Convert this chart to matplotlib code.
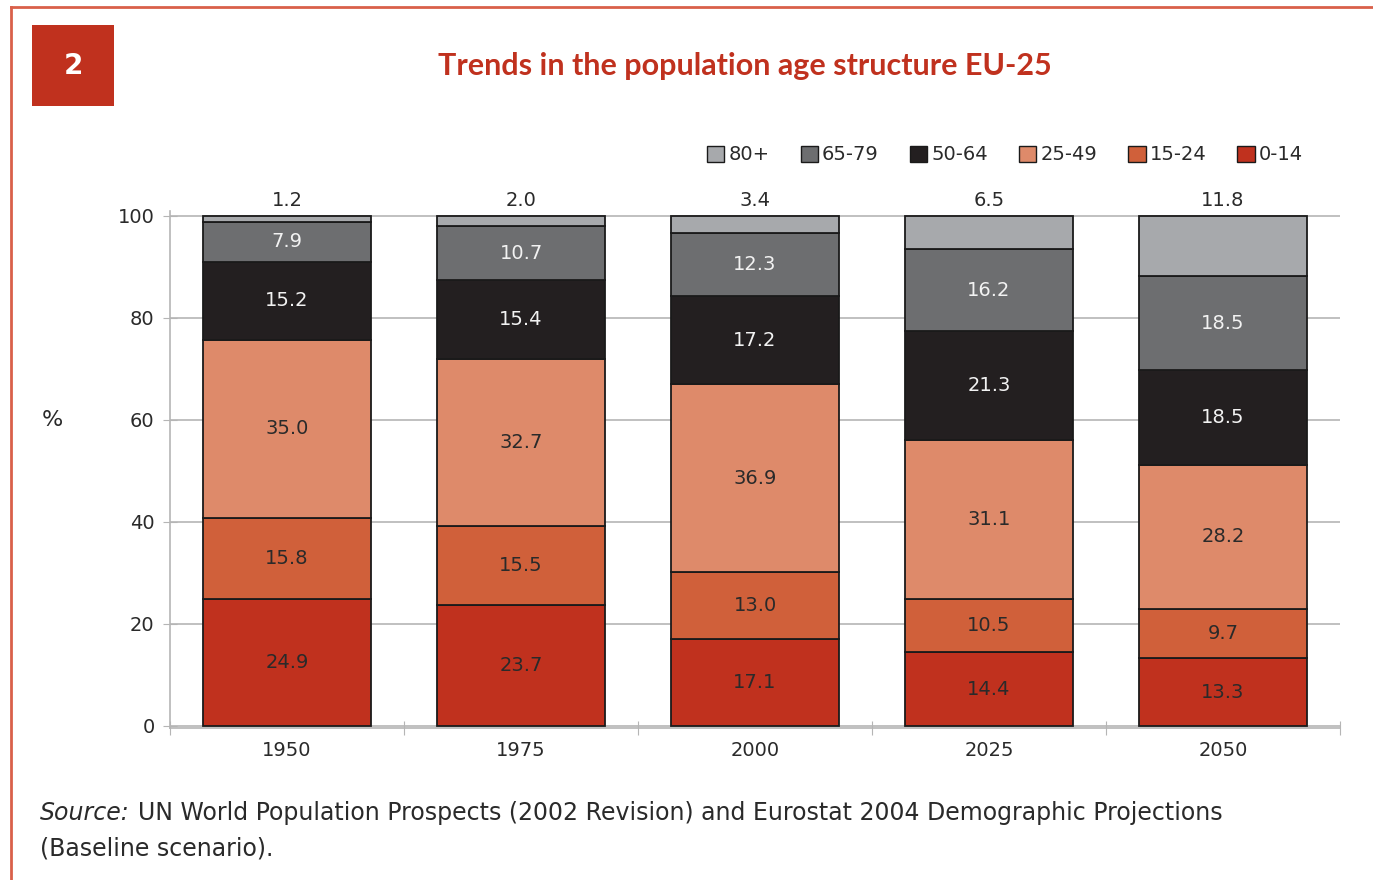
import numpy as np
import matplotlib
matplotlib.use("Agg")
from matplotlib import pyplot as plt
from matplotlib.patches import Rectangle, Patch
from matplotlib.lines import Line2D

years = ["1950", "1975", "2000", "2025", "2050"]
groups = ["0-14", "15-24", "25-49", "50-64", "65-79", "80+"]
age_0_14 = [24.9, 23.7, 17.1, 14.4, 13.3]
age_15_24 = [15.8, 15.5, 13.0, 10.5, 9.7]
age_25_49 = [35.0, 32.7, 36.9, 31.1, 28.2]
age_50_64 = [15.2, 15.4, 17.2, 21.3, 18.5]
age_65_79 = [7.9, 10.7, 12.3, 16.2, 18.5]
age_80 = [1.2, 2.0, 3.4, 6.5, 11.8]

series = [age_0_14, age_15_24, age_25_49, age_50_64, age_65_79, age_80]
colors = ["#C0311E", "#D0603A", "#DE8A6A", "#231F20", "#6D6E70", "#A7A9AC"]
text_cols = ["#2a2a2a", "#2a2a2a", "#2a2a2a", "#f2f2f2", "#f2f2f2", None]

red = "#C0311E"
grid_col = "#b5b5b5"
txt = "#2a2a2a"
plt.rcParams["font.family"] = ["DejaVu Sans"]

fig = plt.figure(figsize=(13.73, 8.8), dpi=100)
ax = fig.add_axes([170 / 1373, 152 / 880, 1170 / 1373, 517 / 880])

x = np.arange(len(years))
bottom = np.zeros(len(years))
for vals, col, tc in zip(series, colors, text_cols):
    vals = np.array(vals)
    ax.bar(x, vals, 0.715, bottom=bottom, color=col, edgecolor="#1a1a1a",
           linewidth=1.3, zorder=3)
    for xi, b, v in zip(x, bottom, vals):
        if tc is None:
            ax.text(xi, 101.0, f"{v:.1f}", ha="center", va="bottom",
                    fontsize=14, color=txt)
        else:
            ax.text(xi, b + v / 2, f"{v:.1f}", ha="center", va="center",
                    fontsize=14, color=tc)
    bottom += vals

ax.set_xlim(-0.5, 4.5)
ax.set_ylim(-0.4, 100.9)
ax.set_yticks([0, 20, 40, 60, 80, 100])
ax.tick_params(axis="y", length=10, color=grid_col, labelsize=14, labelcolor=txt,
               pad=6, direction="inout")
ax.set_xticks(np.arange(-0.5, 5.0, 1.0))
ax.set_xticks(x, minor=True)
ax.set_xticklabels([])
ax.set_xticklabels(years, minor=True)
ax.tick_params(axis="x", which="major", length=10, color=grid_col, direction="inout")
ax.tick_params(axis="x", which="minor", length=0, labelsize=14, labelcolor=txt, pad=9)
ax.grid(axis="y", color=grid_col, linewidth=1.2, zorder=0)
for s in ["top", "right"]:
    ax.spines[s].set_visible(False)
for s in ["left", "bottom"]:
    ax.spines[s].set_color(grid_col)
    ax.spines[s].set_linewidth(1.2)
fig.text(52 / 1373, 1 - 420 / 880, "%", fontsize=16, ha="center", va="center", color=txt)

handles = [Patch(facecolor=c, edgecolor="#1a1a1a", linewidth=1) for c in colors[::-1]]
fig.legend(handles, groups[::-1], loc="center", bbox_to_anchor=(1005 / 1373, 1 - 155 / 880),
           ncol=6, frameon=False, fontsize=14, handlelength=0.9, handleheight=0.9,
           handletextpad=0.2, columnspacing=1.6, labelcolor=txt)

# number box and title
fig.patches.append(Rectangle((32 / 1373, 1 - 106 / 880), 82 / 1373, 81 / 880,
                             transform=fig.transFigure, facecolor=red, edgecolor="none"))
fig.text(73 / 1373, 1 - 66 / 880, "2", color="white", fontsize=20, fontweight="bold",
         ha="center", va="center")
fig.text(745 / 1373, 1 - 66 / 880, "Trends in the population age structure EU-25",
         color=red, fontsize=22, fontweight="bold", ha="center", va="center",
         family=["Lato", "DejaVu Sans"])

# frame lines
fig.add_artist(Line2D([11 / 1373, 11 / 1373], [0, 1 - 7 / 880], transform=fig.transFigure,
                      color="#D9604A", linewidth=2))
fig.add_artist(Line2D([11 / 1373, 1], [1 - 7 / 880, 1 - 7 / 880], transform=fig.transFigure,
                      color="#D9604A", linewidth=2))

src = fig.text(40 / 1373, 1 - 813 / 880, "Source:", fontsize=17, style="italic",
               ha="left", va="center", color=txt)
renderer = fig.canvas.get_renderer()
x_end = src.get_window_extent(renderer).x1
fig.text((x_end + 8) / 1373, 1 - 813 / 880,
         "UN World Population Prospects (2002 Revision) and Eurostat 2004 Demographic Projections",
         fontsize=17, ha="left", va="center", color=txt)
fig.text(40 / 1373, 1 - 848 / 880, "(Baseline scenario).", fontsize=17, ha="left",
         va="center", color=txt)

fig.savefig("out.png", dpi=100)
